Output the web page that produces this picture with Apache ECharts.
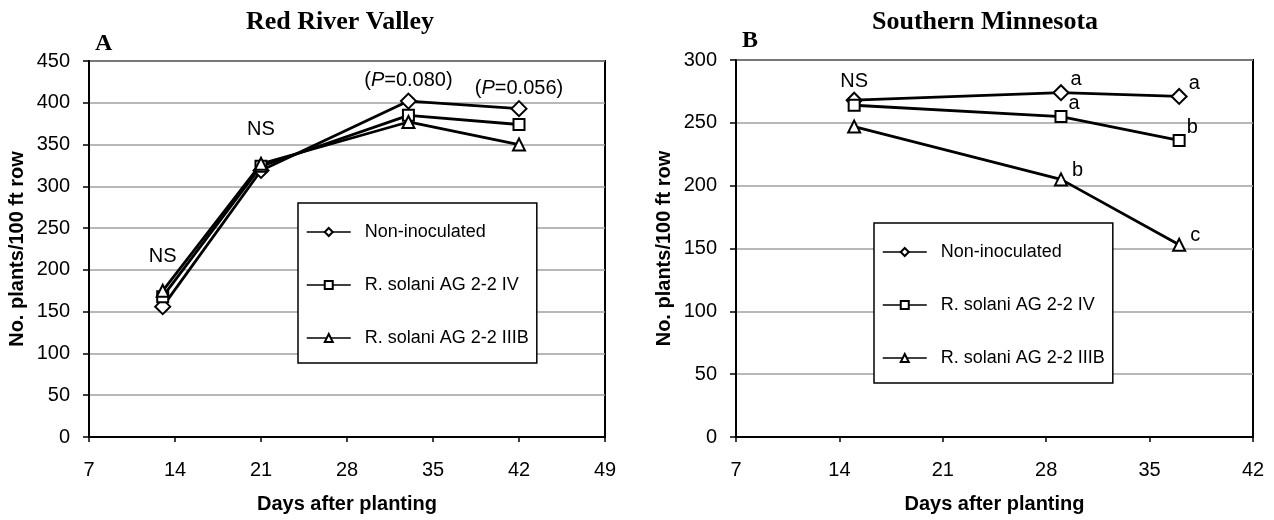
<!DOCTYPE html>
<html>
<head>
<meta charset="utf-8">
<script src="https://cdn.jsdelivr.net/npm/echarts@6/dist/echarts.min.js"></script>
<style>
  html, body { margin: 0; padding: 0; background: #fff; }
  #chart { width: 1274px; height: 520px; }
</style>
</head>
<body>
<div id="chart"></div>
<script>
// series names
const names = ['Non-inoculated', 'R. solani AG 2-2 IV', 'R. solani AG 2-2 IIIB']

// A: Red River Valley
const daysA = [13, 21, 33, 42]
const nonA = [156, 319, 402, 393]
const ivA = [168, 324, 385, 374]
const iiibA = [175, 327, 377, 350]
const pNotesA = ['', '', '({i|P}=0.080)', '({i|P}=0.056)']
const nsNotesA = ['NS', 'NS', '', '']

// B: Southern Minnesota
const daysB = [15, 29, 37]
const nonB = [268, 274, 271]
const ivB = [264, 255, 236]
const iiibB = [247, 205, 153]
const nsNotesB = ['NS', '', '']
const letNonB = ['', 'a', 'a']
const letIvB = ['', 'a', 'b']
const letIiibB = ['', 'b', 'c']

const sans = "'Liberation Sans', Arial, sans-serif"
const serif = "'Liberation Serif', 'Times New Roman', serif"

const chart = echarts.init(document.getElementById('chart'))

// label styles
const topLabel = (dist) => ({ position: 'top', distance: dist })
const letterLabel = { position: 'right', distance: 1, offset: [0, -13] }

// build data items, attach annotation text to chosen points
function points(days, vals, layers) {
  return days.map((d, i) => {
    const hit = (layers || []).find(l => l.notes[i])
    if (!hit) return { value: [d, vals[i]] }
    return {
      value: [d, vals[i]],
      label: Object.assign({
        show: true,
        formatter: hit.notes[i],
        color: '#000',
        fontSize: 20,
        fontFamily: sans,
        rich: { i: { fontStyle: 'italic', fontSize: 20, fontFamily: sans, color: '#000' } }
      }, hit.style)
    }
  })
}

const symbols = ['emptyDiamond', 'emptyRect', 'emptyTriangle']
const symbolSizes = [15, 11, 12]

function lineSeries(idx, grid, data) {
  return {
    name: names[idx],
    type: 'line',
    xAxisIndex: grid,
    yAxisIndex: grid,
    data: data,
    symbol: symbols[idx],
    symbolSize: symbolSizes[idx],
    showAllSymbol: true,
    animation: false,
    lineStyle: { color: '#000', width: 2.8 },
    itemStyle: { color: '#000', borderColor: '#000', borderWidth: 1.6 },
    emphasis: { disabled: true }
  }
}

function xAxis(grid, max) {
  return {
    type: 'value', gridIndex: grid, min: 7, max: max, interval: 7,
    name: 'Days after planting', nameLocation: 'middle', nameGap: 57,
    nameTextStyle: { fontSize: 20, fontWeight: 'bold', fontFamily: sans, color: '#000' },
    axisLine: { show: true, lineStyle: { color: '#000', width: 2 } },
    axisTick: { show: true, inside: false, length: 5, lineStyle: { color: '#000', width: 1.5 } },
    axisLabel: { margin: 23, fontSize: 20, fontFamily: sans, color: '#000' },
    splitLine: { show: false }
  }
}

function yAxis(grid, max) {
  return {
    type: 'value', gridIndex: grid, min: 0, max: max, interval: 50,
    name: 'No. plants/100 ft row', nameLocation: 'middle', nameGap: 62,
    nameTextStyle: { fontSize: 20, fontWeight: 'bold', fontFamily: sans, color: '#000' },
    axisLine: { show: true, lineStyle: { color: '#000', width: 2 } },
    axisTick: { show: true, inside: false, length: 6, lineStyle: { color: '#000', width: 1.5 } },
    axisLabel: { margin: 19, fontSize: 20, fontFamily: sans, color: '#000' },
    splitLine: { show: true, lineStyle: { color: '#a0a0a0', width: 1.5 } }
  }
}

function legend(left, top) {
  return {
    orient: 'vertical', left: left, top: top,
    data: names,
    selectedMode: false,
    itemWidth: 44, itemHeight: 10, itemGap: 33,
    padding: [19, 8, 15, 8],
    backgroundColor: '#fff', borderColor: '#000', borderWidth: 1.5,
    lineStyle: { width: 1.5 },
    itemStyle: { borderWidth: 1.2 },
    textStyle: { fontSize: 18, lineHeight: 20, fontFamily: sans, color: '#000', padding: [0, 0, 0, 9] }
  }
}

const option = {
  backgroundColor: '#fff',
  animation: false,
  graphic: [
    { type: 'text', x: 340, y: 22, style: { text: 'Red River Valley', font: 'bold 26px ' + serif, textAlign: 'center', textVerticalAlign: 'middle', fill: '#000' } },
    { type: 'text', x: 985, y: 22, style: { text: 'Southern Minnesota', font: 'bold 26px ' + serif, textAlign: 'center', textVerticalAlign: 'middle', fill: '#000' } },
    { type: 'text', x: 95, y: 44, style: { text: 'A', font: 'bold 24px ' + serif, textVerticalAlign: 'middle', fill: '#000' } },
    { type: 'text', x: 742, y: 41, style: { text: 'B', font: 'bold 24px ' + serif, textVerticalAlign: 'middle', fill: '#000' } }
  ],
  grid: [
    { left: 89, top: 61, width: 516, height: 376, show: true, borderColor: '#000', borderWidth: 2, backgroundColor: 'transparent' },
    { left: 736, top: 60, width: 517, height: 377, show: true, borderColor: '#000', borderWidth: 2, backgroundColor: 'transparent' }
  ],
  xAxis: [xAxis(0, 49), xAxis(1, 42)],
  yAxis: [yAxis(0, 450), yAxis(1, 300)],
  legend: [legend(298, 203), legend(874, 223)],
  series: [
    lineSeries(0, 0, points(daysA, nonA, [{ notes: pNotesA, style: topLabel(2) }])),
    lineSeries(1, 0, points(daysA, ivA)),
    lineSeries(2, 0, points(daysA, iiibA, [{ notes: nsNotesA, style: topLabel(17) }])),
    lineSeries(0, 1, points(daysB, nonB, [{ notes: nsNotesB, style: topLabel(0) }, { notes: letNonB, style: letterLabel }])),
    lineSeries(1, 1, points(daysB, ivB, [{ notes: letIvB, style: letterLabel }])),
    lineSeries(2, 1, points(daysB, iiibB, [{ notes: letIiibB, style: { position: 'right', distance: 4, offset: [0, -9] } }]))
  ]
}

chart.setOption(option)
</script>
</body>
</html>
